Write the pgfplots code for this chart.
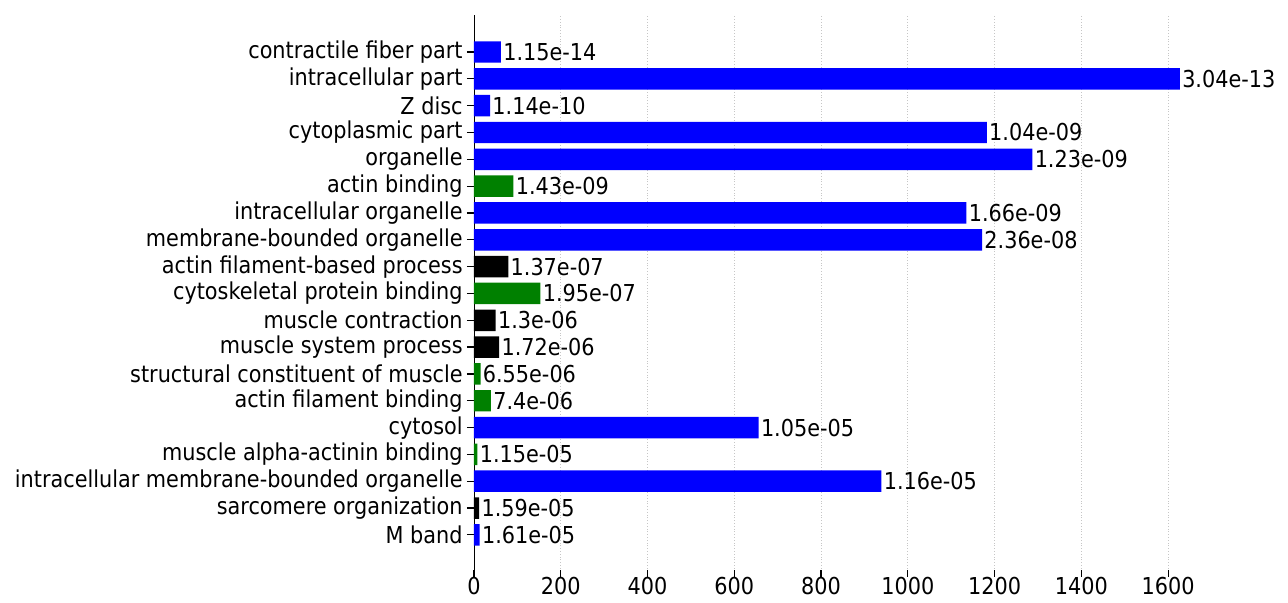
\documentclass[border=0pt]{standalone}
\usepackage{fontspec}
\setmainfont{DejaVu Sans}
\usepackage{pgfplots}
\pgfplotsset{compat=1.18}
\definecolor{mplgreen}{RGB}{0,128,0}

\begin{document}
\begin{tikzpicture}
  % fixed page: 1288x603 px at 0.5pt per px, axis box at origin
  \path[use as bounding box] (-237pt,-13pt) rectangle (407pt,288.5pt);
  \begin{axis}[
    scale only axis,
    width=370.5pt, height=281pt,
    xbar, bar shift=0pt, bar width=0.8,
    xmin=0, xmax=1708,
    ymin=-1.57, ymax=19.38,
    xtick={0,200,...,1600},
    ytick={0,...,18},
    yticklabels={M band, sarcomere organization,
      intracellular membrane-bounded organelle, muscle alpha-actinin binding,
      cytosol, actin filament binding, structural constituent of muscle,
      muscle system process, muscle contraction, cytoskeletal protein binding,
      actin filament-based process, membrane-bounded organelle,
      intracellular organelle, actin binding, organelle, cytoplasmic part,
      Z disc, intracellular part, contractile fiber part},
    axis lines=left,
    axis line style={-},
    x axis line style={draw=none},
    ytick align=outside,
    xtick align=inside,
    major tick length=3.5pt,
    tick style={black, line width=0.6pt},
    xmajorgrids,
    major grid style={densely dotted, gray!45},
    tick label style={font=\fontsize{10.4}{12}\selectfont, yscale=1.12},
    /pgf/number format/assume math mode=true,
    /pgf/number format/1000 sep={},
    yticklabel style={inner xsep=2pt},
    xticklabel style={inner ysep=1pt, yshift=1pt},
    nodes near coords,
    point meta=explicit symbolic,
    every node near coord/.style={anchor=west, inner xsep=1pt, yscale=1.12,
      font=\fontsize{10.4}{12}\selectfont, black},
    clip=false,
  ]
    % blue: cellular component
    \addplot[fill=blue, draw=none] table[x=x, y=y, meta=p] {
      x    y   p
      13   0   1.61e-05
      939  2   1.16e-05
      656  4   1.05e-05
      1171 11  2.36e-08
      1135 12  1.66e-09
      1287 14  1.23e-09
      1182 15  1.04e-09
      37   16  1.14e-10
      1627 17  3.04e-13
      62   18  1.15e-14
    };
    % green: molecular function
    \addplot[fill=mplgreen, draw=none] table[x=x, y=y, meta=p] {
      x    y   p
      8    3   1.15e-05
      39   5   7.4e-06
      15   6   6.55e-06
      153  9   1.95e-07
      91   13  1.43e-09
    };
    % black: biological process
    \addplot[fill=black, draw=none] table[x=x, y=y, meta=p] {
      x    y   p
      12   1   1.59e-05
      58   7   1.72e-06
      50   8   1.3e-06
      79   10  1.37e-07
    };
  \end{axis}
\end{tikzpicture}
\end{document}
